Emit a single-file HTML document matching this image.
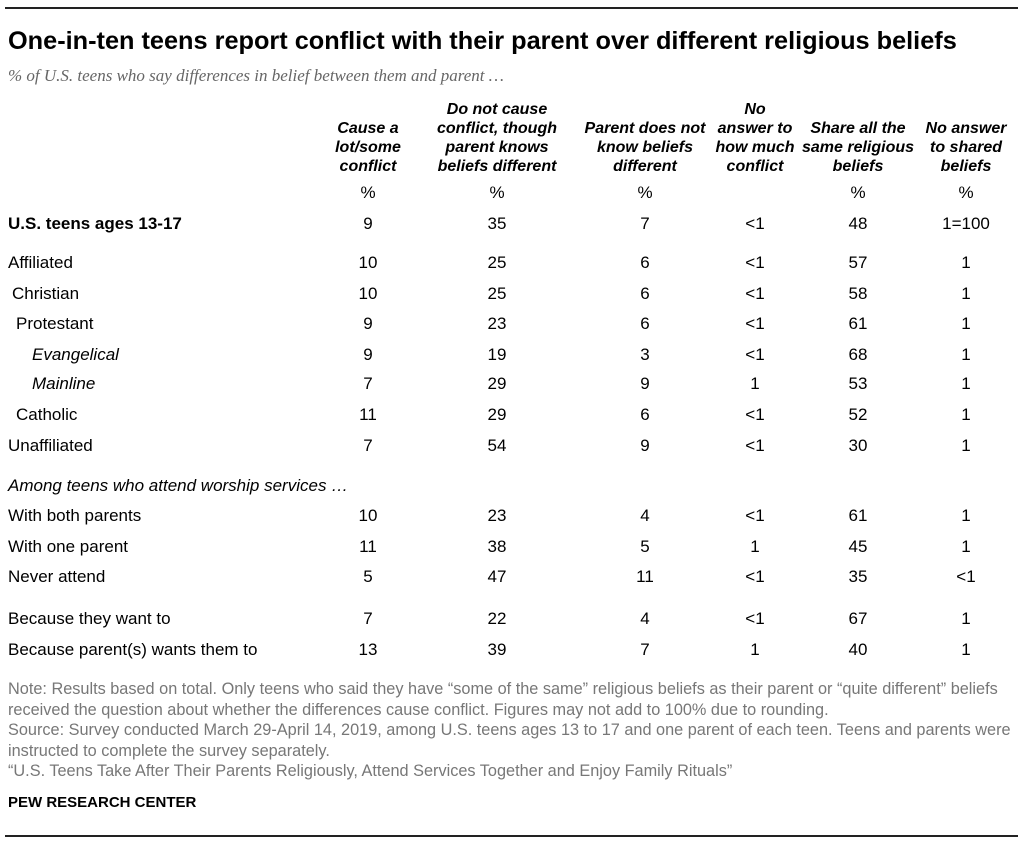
<!DOCTYPE html>
<html><head><meta charset="utf-8"><style>
body{margin:0;width:1024px;height:847px;background:#fff;position:relative;overflow:hidden;font-family:"Liberation Sans",sans-serif;color:#000}
.a{position:absolute;white-space:nowrap}
.rule{position:absolute;left:5px;width:1013px;height:2px;background:#222}
.t{left:8px;top:27px;font-size:25.3px;font-weight:bold}
.s{left:8px;top:66px;font-family:"Liberation Serif",serif;font-style:italic;font-size:17px;color:#666}
.h{font-weight:bold;font-style:italic;font-size:16px;text-align:center;line-height:19px;transform:translateX(-50%)}
.c{font-size:17px;transform:translateX(-50%);text-align:center}
.l{font-size:17px;left:8px}
.n{font-size:16.3px;color:#777;left:8px}
</style></head><body>
<div class="rule" style="top:7px"></div>
<div class="a t">One-in-ten teens report conflict with their parent over different religious beliefs</div>
<div class="a s">% of U.S. teens who say differences in belief between them and parent …</div>
<div id="tbl"></div>
<div class="a n" style="top:680px">Note: Results based on total. Only teens who said they have “some of the same” religious beliefs as their parent or “quite different” beliefs</div>
<div class="a n" style="top:701px">received the question about whether the differences cause conflict. Figures may not add to 100% due to rounding.</div>
<div class="a n" style="top:721px">Source: Survey conducted March 29-April 14, 2019, among U.S. teens ages 13 to 17 and one parent of each teen. Teens and parents were</div>
<div class="a n" style="top:742px">instructed to complete the survey separately.</div>
<div class="a n" style="top:762px">“U.S. Teens Take After Their Parents Religiously, Attend Services Together and Enjoy Family Rituals”</div>
<div class="a" style="left:8px;top:794px;font-size:15px;font-weight:bold">PEW RESEARCH CENTER</div>
<div class="rule" style="top:835px"></div>
<script>
const headers=[["Cause a","lot/some","conflict"],["Do not cause","conflict, though","parent knows","beliefs different"],["Parent does not","know beliefs","different"],["No","answer to","how much","conflict"],["Share all the","same religious","beliefs"],["No answer","to shared","beliefs"]];
const pctRow=["%","%","%","","%","%"];
const labels=["U.S. teens ages 13-17","Affiliated","Christian","Protestant","Evangelical","Mainline","Catholic","Unaffiliated","With both parents","With one parent","Never attend","Because they want to","Because parent(s) wants them to"];
const conflict=["9","10","10","9","9","7","11","7","10","11","5","7","13"];
const noConflict=["35","25","25","23","19","29","29","54","23","38","47","22","39"];
const parentNotKnow=["7","6","6","6","3","9","6","9","4","5","11","4","7"];
const noAnswerConflict=["<1","<1","<1","<1","<1","1","<1","<1","<1","1","<1","<1","1"];
const shareAll=["48","57","58","61","68","53","52","30","61","45","35","67","40"];
const noAnswerShared=["1=100","1","1","1","1","1","1","1","1","1","<1","1","1"];
const colX=[368,497,645,755,858,966];
const rowY=[214,253,284,314,345,374,405,436,506,537,567,609,640];
const indent=[0,0,4,8,24,24,8,0,0,0,0,0,0];
const tbl=document.getElementById('tbl');
function add(cls,txt,x,y,name){const d=document.createElement('div');d.className='a '+cls;d.textContent=txt;d.style.left=x+'px';d.style.top=y+'px';


tbl.appendChild(d);return d;}
headers.forEach((h,i)=>{const d=add('h','',colX[i],176-h.length*19,'column-header');d.innerHTML=h.join('<br>');});
pctRow.forEach((p,i)=>add('c',p,colX[i],183,'percent-sign'));
const cols=[conflict,noConflict,parentNotKnow,noAnswerConflict,shareAll,noAnswerShared];
labels.forEach((lab,r)=>{const d=add('l',lab,8+indent[r],rowY[r],'row-label');
if(r==0)d.style.fontWeight='bold';if(r==4||r==5)d.style.fontStyle='italic';
cols.forEach((c,i)=>add('c',c[r],colX[i],rowY[r],'cell-value'));});
const g=add('l','Among teens who attend worship services …',8,476,'group-label');g.style.fontStyle='italic';
</script>
</body></html>
